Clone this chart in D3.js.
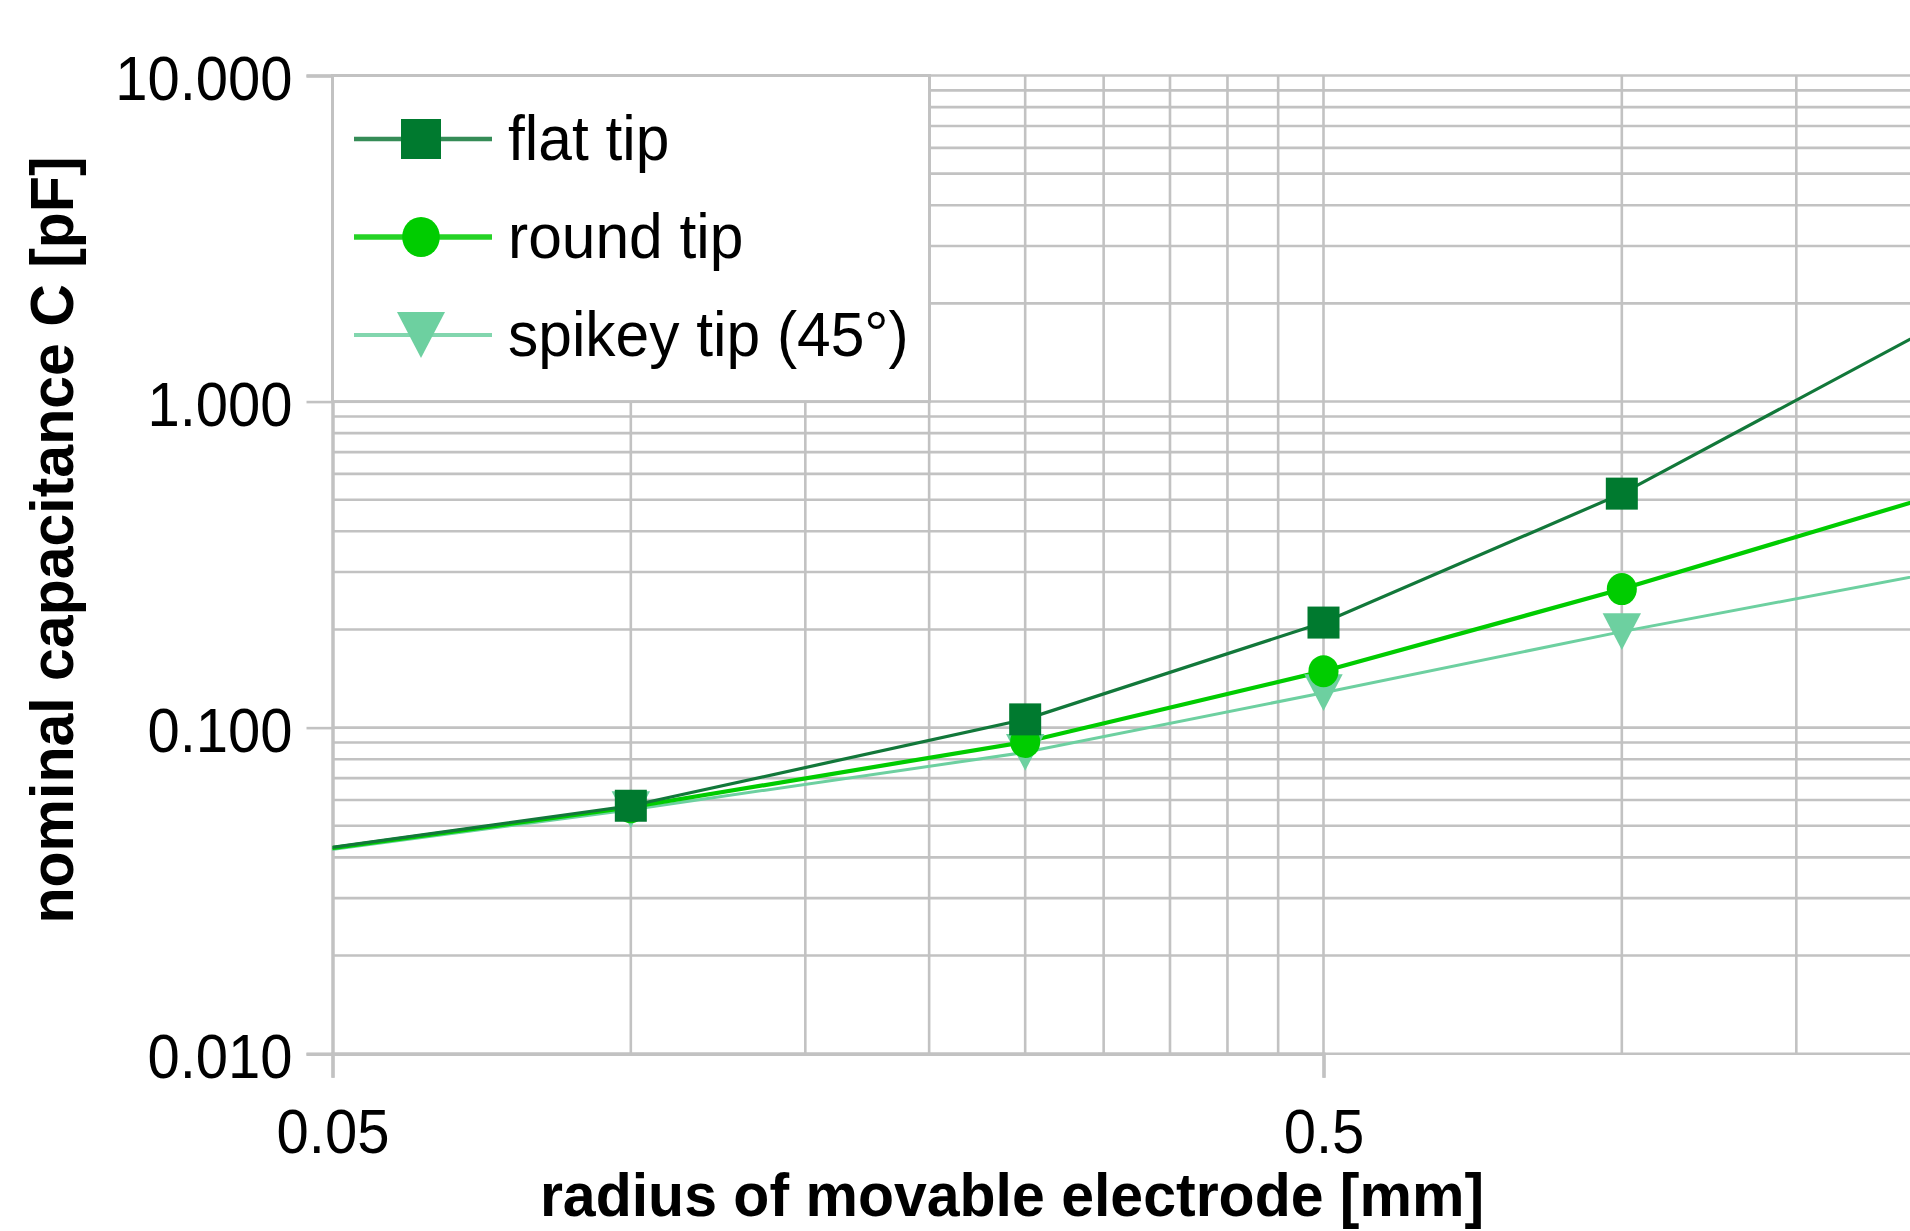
<!DOCTYPE html>
<html>
<head>
<meta charset="utf-8">
<script src="https://cdn.jsdelivr.net/npm/d3@7"></script>
<style>
  body { margin: 0; background: #fff; }
  svg { display: block; }
  text { font-family: "Liberation Sans", Arial, sans-serif; fill: #000; }
</style>
</head>
<body>
<div id="chart"></div>
<script>
const WIDTH = 1910, HEIGHT = 1231;

// radius of movable electrode [mm] (first and last points lie outside the visible area)
const radius = [0.025, 0.1, 0.25, 0.5, 1, 2.5];
// nominal capacitance [pF]
const flatTip = [0.032, 0.0576, 0.106, 0.21, 0.522, 2.32];
const roundTip = [0.032, 0.057, 0.0904, 0.149, 0.266, 0.612];
const spikeyTip = [0.032, 0.056, 0.084, 0.128, 0.197, 0.333];

const seriesNames = ["flat tip", "round tip", "spikey tip (45°)"];

// axis ticks
const xMajor = [0.05, 0.5];
const xMinor = [0.1, 0.15, 0.2, 0.25, 0.3, 0.35, 0.4, 0.45, 1, 1.5, 2, 2.5, 3, 3.5, 4, 4.5, 5];
const xTickLabels = ["0.05", "0.5"];
const yMajor = [0.01, 0.1, 1, 10];
const yMinor = [0.02, 0.03, 0.04, 0.05, 0.06, 0.07, 0.08, 0.09,
                0.2, 0.3, 0.4, 0.5, 0.6, 0.7, 0.8, 0.9,
                2, 3, 4, 5, 6, 7, 8, 9];
const yTickLabels = ["0.010", "0.100", "1.000", "10.000"];

const LEFT = 332.5, TOP = 75.5, BOTTOM = 1053.7;
const GRID = "#c2c2c2";

let x = d3.scaleLog().domain([0.05, 0.5]).range([LEFT, 1323.5]);
let y = d3.scaleLog().domain([0.01, 10]).range([BOTTOM, TOP]);
const xEnd = 5;

let svg = d3.select("#chart").append("svg")
  .attr("width", WIDTH)
  .attr("height", HEIGHT);

svg.append("defs").append("clipPath").attr("id", "plotClip")
  .append("rect")
  .attr("x", LEFT).attr("y", TOP)
  .attr("width", x(xEnd) - LEFT).attr("height", BOTTOM - TOP);

//grid lines
let grid = svg.append("g").attr("class", "grid");
grid.selectAll("line.h")
  .data(yMinor.concat(yMajor))
  .enter().append("line")
  .attr("x1", LEFT).attr("x2", x(xEnd))
  .attr("y1", (d) => y(d)).attr("y2", (d) => y(d))
  .attr("stroke", GRID).attr("stroke-width", 2.6);
grid.selectAll("line.v")
  .data(xMinor.concat(xMajor.slice(1)))
  .enter().append("line")
  .attr("x1", (d) => x(d)).attr("x2", (d) => x(d))
  .attr("y1", TOP).attr("y2", BOTTOM)
  .attr("stroke", GRID).attr("stroke-width", 2.6);

//axes
let yAxis = d3.axisLeft(y)
  .tickValues(yMajor)
  .tickSize(26)
  .tickPadding(14)
  .tickFormat((d, i) => yTickLabels[i]);
let yAxisG = svg.append("g").attr("transform", `translate(${LEFT},0)`).call(yAxis);

let xAxis = d3.axisBottom(x)
  .tickValues(xMajor)
  .tickSize(24)
  .tickPadding(28)
  .tickFormat((d, i) => xTickLabels[i]);
let xAxisG = svg.append("g").attr("transform", `translate(0,${BOTTOM})`).call(xAxis);

[yAxisG, xAxisG].forEach((g) => {
  g.select(".domain").attr("stroke", GRID).attr("stroke-width", 3.5);
  g.selectAll(".tick line").attr("stroke", GRID).attr("stroke-width", 2.6);
  g.selectAll("text")
    .style("font-size", "58px")
    .attr("fill", "#000")
    .attr("transform", "scale(1,1.07)");
});
yAxisG.selectAll("text").attr("dy", "0.38em");
xAxisG.selectAll("text").attr("dy", "0.71em");

//axis titles
svg.append("text")
  .attr("transform", "translate(1012,1216) scale(1,1.04)")
  .attr("text-anchor", "middle")
  .style("font-size", "59px").style("font-weight", "bold")
  .text("radius of movable electrode [mm]");
svg.append("text")
  .attr("transform", "translate(73,540) rotate(-90) scale(1,1.05)")
  .attr("text-anchor", "middle")
  .style("font-size", "59px").style("font-weight", "bold")
  .text("nominal capacitance C [pF]");

//series
let series = [
  { name: seriesNames[2], values: spikeyTip, color: "#6dd0a0", lineColor: "#6dd0a0", width: 3, shape: "tri" },
  { name: seriesNames[1], values: roundTip, color: "#00cc00", lineColor: "#00cc00", width: 4.2, shape: "circle" },
  { name: seriesNames[0], values: flatTip, color: "#007a2f", lineColor: "#12783a", width: 3.2, shape: "square" },
];

function drawMarker(g, shape, color, size) {
  if (shape === "square") {
    g.append("rect").attr("x", -size / 2).attr("y", -size / 2)
      .attr("width", size).attr("height", size).attr("fill", color);
  } else if (shape === "circle") {
    g.append("ellipse").attr("rx", size * 0.47).attr("ry", size * 0.5).attr("fill", color);
  } else {
    let h = size * 1.15, w = size * 1.2;
    g.append("path")
      .attr("d", `M${-w / 2},${-h / 2}L${w / 2},${-h / 2}L0,${h / 2}Z`)
      .attr("fill", color);
  }
}

let plot = svg.append("g").attr("clip-path", "url(#plotClip)");
let line = d3.line().x((d) => x(d[0])).y((d) => y(d[1]));

series.forEach((s) => {
  let pts = radius.map((r, i) => [r, s.values[i]]);
  plot.append("path")
    .datum(pts)
    .attr("d", line)
    .attr("fill", "none")
    .attr("stroke", s.lineColor)
    .attr("stroke-width", s.width);
});
series.forEach((s) => {
  let pts = radius.map((r, i) => [r, s.values[i]]);
  plot.selectAll(null)
    .data(pts)
    .enter().append("g")
    .attr("transform", (d) => `translate(${x(d[0])},${y(d[1])})`)
    .each(function () { drawMarker(d3.select(this), s.shape, s.color, 32); });
});

//legend
let legend = svg.append("g").attr("class", "legend");
legend.append("rect")
  .attr("x", LEFT).attr("y", TOP)
  .attr("width", 929.5 - LEFT).attr("height", y(1) - TOP)
  .attr("fill", "#fff")
  .attr("stroke", GRID).attr("stroke-width", 3);

let legendItems = series.slice().reverse();
legendItems.forEach((s, i) => {
  let row = legend.append("g").attr("transform", `translate(0,${139 + i * 98})`);
  row.append("line")
    .attr("x1", 354).attr("x2", 492)
    .attr("stroke", s.lineColor).attr("stroke-width", s.width + 1.2)
    .attr("opacity", 0.85);
  let m = row.append("g").attr("transform", "translate(421,0)");
  drawMarker(m, s.shape, s.color, 40);
  row.append("text")
    .attr("transform", "translate(508,21) scale(1,1.05)")
    .style("font-size", "60.5px")
    .text(s.name);
});
</script>
</body>
</html>
